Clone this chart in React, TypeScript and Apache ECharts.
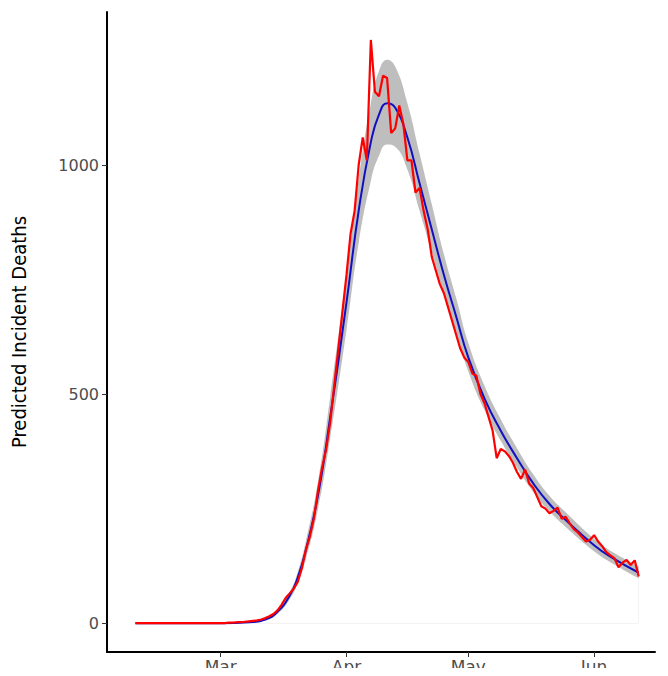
import { useEffect, useRef } from "react";
import * as echarts from "echarts";

// fitted curve (sampled dates)
const fitDates = [
  "2020-02-09", "2020-03-01", "2020-03-08", "2020-03-12", "2020-03-15", "2020-03-18", "2020-03-20",
  "2020-03-22", "2020-03-25", "2020-03-28", "2020-04-01", "2020-04-04", "2020-04-07", "2020-04-09",
  "2020-04-11", "2020-04-13", "2020-04-16", "2020-04-19", "2020-04-22", "2020-04-25", "2020-04-28",
  "2020-05-01", "2020-05-05", "2020-05-09", "2020-05-13", "2020-05-17", "2020-05-21", "2020-05-25",
  "2020-06-01", "2020-06-05", "2020-06-12",
];
const fitMean = [
  0, 0, 2, 8, 25, 60, 100, 160, 280, 450, 700, 900, 1050, 1110, 1135, 1125, 1060, 960, 860, 760,
  670, 580, 490, 420, 360, 305, 260, 225, 170, 145, 110,
];
const fitLower = [
  0, 0, 1, 6, 20, 52, 88, 140, 250, 405, 640, 830, 965, 1020, 1045, 1040, 990, 900, 810, 720,
  635, 550, 465, 398, 340, 287, 244, 210, 157, 133, 98,
];
const fitUpper = [
  0, 0, 3, 10, 30, 68, 112, 180, 310, 495, 760, 970, 1135, 1205, 1230, 1215, 1135, 1025, 915, 805,
  710, 612, 518, 445, 382, 325, 278, 242, 184, 158, 124,
];

// observed daily deaths starting Feb 9
const obsStart = "2020-02-09";
const observed = [
  0, 0, 0, 0, 0, 0, 0, 0, 0, 0, 0, 0, 0, 0, 0, 0, 0, 0, 0, 0, 0,
  0, 0, 1, 1, 2, 2, 3, 4, 5,
  6, 8, 11, 15, 20, 28, 40, 55, 65, 75,
  90, 120, 160, 190, 230, 290, 340, 380, 440, 520, 600, 680,
  760, 850, 900, 1000, 1060, 1010, 1273, 1160, 1150, 1195,
  1190, 1070, 1080, 1130, 1090, 1010, 1010, 940, 950, 900,
  860, 800, 770, 740, 720, 690, 660, 630, 600, 580,
  570, 545, 540, 500, 480, 450, 420, 360, 380, 375,
  365, 350, 330, 315, 335, 305, 295, 275, 255, 250,
  240, 245, 252, 228, 232, 218, 205, 198, 188, 178, 182,
  192, 178, 168, 155, 148, 142, 122, 132, 138, 127, 137, 102,
];

const yTicks = [0, 500, 1000];
const monthTicks = ["2020-03-01", "2020-04-01", "2020-05-01", "2020-06-01"];
const monthLabels = ["Mar", "Apr", "May", "Jun"];

const DAY = 86400000;
const t0 = new Date(obsStart + "T00:00:00Z").getTime();
const dayOf = (d: string) => Math.round((new Date(d + "T00:00:00Z").getTime() - t0) / DAY);

export default function App() {
  const ref = useRef<HTMLDivElement>(null);

  useEffect(() => {
    if (!ref.current) return;
    const chart = echarts.init(ref.current, null, { renderer: "svg" });
    const monthVals = monthTicks.map(dayOf);

    chart.setOption({
      animation: false,
      grid: { left: 107, right: 13, top: 12, bottom: 24, containLabel: false, outerBoundsMode: "none" },
      xAxis: {
        type: "value",
        min: dayOf("2020-02-02"),
        max: dayOf("2020-06-16"),
        axisLine: { onZero: false, lineStyle: { color: "#000", width: 2 } },
        axisTick: { customValues: monthVals, length: 5, lineStyle: { color: "#333" } },
        axisLabel: {
          customValues: monthVals,
          color: "#4d4d4d",
          fontSize: 17,
          fontFamily: "DejaVu Sans",
          margin: 6,
          formatter: (v: number) => monthLabels[monthVals.indexOf(Math.round(v))] ?? "",
        },
        splitLine: { show: false },
      },
      yAxis: {
        type: "value",
        min: -63,
        max: 1334,
        name: "Predicted Incident Deaths",
        nameLocation: "middle",
        nameGap: 78,
        nameTextStyle: { fontSize: 20, color: "#000", fontFamily: "DejaVu Sans Condensed" },
        axisLine: { show: true, onZero: false, lineStyle: { color: "#000", width: 2 } },
        axisTick: { show: true, customValues: yTicks, length: 5, lineStyle: { color: "#333" } },
        axisLabel: {
          customValues: yTicks,
          color: "#4d4d4d",
          fontSize: 16,
          fontFamily: "DejaVu Sans",
          margin: 8,
          formatter: (v: number) => String(v),
        },
        splitLine: { show: false },
      },
      series: [
        {
          type: "line",
          data: fitDates.map((d, i) => [dayOf(d), fitUpper[i]]),
          smooth: true,
          symbol: "none",
          lineStyle: { opacity: 0 },
          areaStyle: { color: "#bebebe", opacity: 1 },
        },
        {
          type: "line",
          data: fitDates.map((d, i) => [dayOf(d), fitLower[i]]),
          smooth: true,
          symbol: "none",
          lineStyle: { opacity: 0 },
          areaStyle: { color: "#ffffff", opacity: 1 },
        },
        {
          type: "line",
          data: fitDates.map((d, i) => [dayOf(d), fitMean[i]]),
          smooth: true,
          symbol: "none",
          lineStyle: { color: "#1010c0", width: 2 },
        },
        {
          type: "line",
          data: observed.map((v, i) => [i, v]),
          symbol: "none",
          lineStyle: { color: "#ff0000", width: 2.2 },
        },
      ],
    });

    return () => chart.dispose();
  }, []);

  return <div ref={ref} style={{ width: 668, height: 676, margin: -8 }} />;
}
